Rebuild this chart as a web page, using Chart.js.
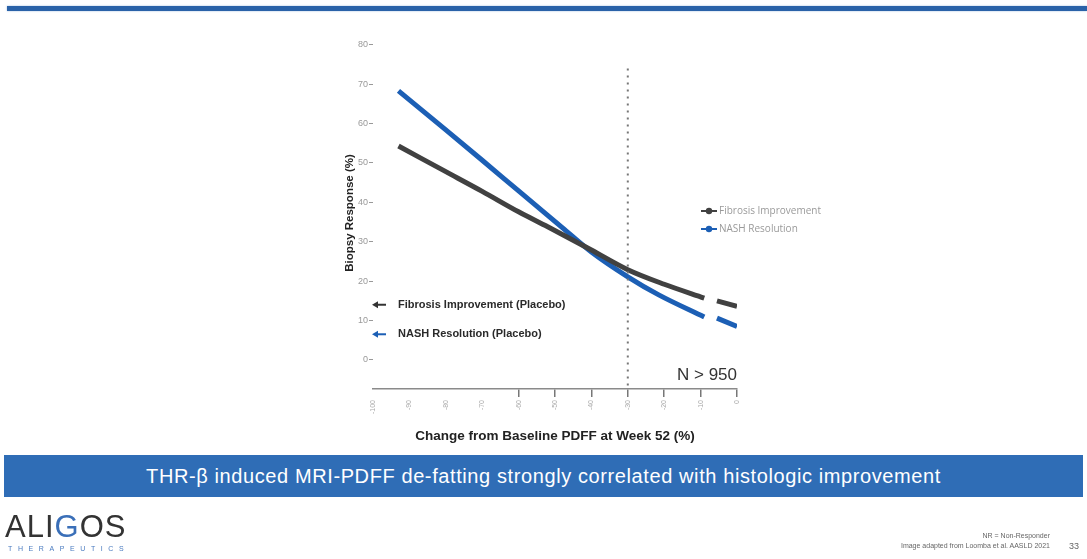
<!DOCTYPE html>
<html>
<head>
<meta charset="utf-8">
<script src="https://cdn.jsdelivr.net/npm/chart.js@4.4.1/dist/chart.umd.min.js"></script>
<style>
  body { margin: 0; width: 1087px; height: 559px; background: #fff; overflow: hidden; position: relative; font-family: 'Liberation Sans', Arial, sans-serif; }
  #topbar { position: absolute; left: 7px; right: 0; top: 6px; height: 5px; background: #2a62a8; box-shadow: 0 0 2px #9ab8dc; }
  #wrap { position: absolute; left: 0; top: 0; width: 1087px; height: 559px; }
  #banner { position: absolute; left: 4px; right: 4px; top: 455px; height: 42px; background: #2f6db6; color: #fff; font-size: 20px; line-height: 42px; text-align: center; letter-spacing: 0.6px; }
  #logo { position: absolute; left: 5px; top: 511px; font-size: 31px; letter-spacing: 1px; color: #333; line-height: 31px; }
  #logo span { color: #3a6fb8; }
  #logo2 { position: absolute; left: 8px; top: 545px; font-size: 7px; letter-spacing: 5.6px; color: #4a7bc0; }
  #notes { position: absolute; right: 37px; top: 531px; font-size: 7px; line-height: 10px; color: #666; text-align: right; }
  #page { position: absolute; right: 8px; top: 541px; font-size: 9px; color: #666; }
</style>
</head>
<body>
<div id="topbar"></div>
<div id="wrap"><canvas id="grafico" width="1087" height="559"></canvas></div>
<div id="banner">THR-β induced MRI-PDFF de-fatting strongly correlated with histologic improvement</div>
<div id="logo">ALI<span>G</span>OS</div>
<div id="logo2">THERAPEUTICS</div>
<div id="notes">NR = Non-Responder<br>Image adapted from Loomba et al. AASLD 2021</div>
<div id="page">33</div>
<script>
// valores (PDFF % vs resposta %)
const pdffFibrose = [-93, -80, -70, -60, -52, -40, -30, -20, -9, null, -5.5, 0]
const respFibrose = [54.3, 47.8, 42.8, 37.6, 33.8, 27.9, 22.9, 19.2, 15.7, null, 15.0, 13.6]
const pdffNash = [-93, -80, -70, -60, -48, -40, -30, -21.5, -9, null, -5.5, 0]
const respNash = [68.3, 58.4, 50.7, 42.9, 33.6, 27.4, 21.1, 16.5, 10.9, null, 10.6, 8.5]

const placeboFibrose = 14
const placeboNash = 6.5
const limiarPdff = -30
const topoLimiar = 74

const ticksX = [-100, -90, -80, -70, -60, -50, -40, -30, -20, -10, 0]
const ticksY = [0, 10, 20, 30, 40, 50, 60, 70, 80]

function montaPontos(xs, ys) {
  return xs.map((x, i) => ({ x: x === null ? -7 : x, y: ys[i] }))
}

const corPreta = '#414141'
const corAzul = '#1c5fb5'

// linha pontilhada, setas de placebo, legenda e N
const extras = {
  id: 'extras',
  afterDatasetsDraw(chart) {
    const ctx = chart.ctx
    const x = chart.scales.x
    const y = chart.scales.y

    ctx.save()
    ctx.strokeStyle = '#777'
    ctx.lineWidth = 2
    ctx.setLineDash([2, 5])
    ctx.beginPath()
    ctx.moveTo(x.getPixelForValue(limiarPdff), y.getPixelForValue(topoLimiar))
    ctx.lineTo(x.getPixelForValue(limiarPdff), chart.chartArea.bottom)
    ctx.stroke()
    ctx.setLineDash([])

    const setas = [
      { v: placeboFibrose, cor: '#333', txt: 'Fibrosis Improvement (Placebo)' },
      { v: placeboNash, cor: corAzul, txt: 'NASH Resolution (Placebo)' },
    ]
    setas.forEach(s => {
      const py = y.getPixelForValue(s.v)
      const px = x.left
      ctx.strokeStyle = s.cor
      ctx.fillStyle = s.cor
      ctx.lineWidth = 2
      ctx.beginPath()
      ctx.moveTo(px + 13, py)
      ctx.lineTo(px + 2, py)
      ctx.stroke()
      ctx.beginPath()
      ctx.moveTo(px - 1, py)
      ctx.lineTo(px + 5, py - 3.5)
      ctx.lineTo(px + 5, py + 3.5)
      ctx.closePath()
      ctx.fill()
      ctx.fillStyle = '#2a2a2a'
      ctx.font = 'bold 11px "Liberation Sans", Arial'
      ctx.textBaseline = 'middle'
      ctx.fillText(s.txt, px + 25, py)
    })

    // legenda
    chart.data.datasets.forEach((ds, i) => {
      const ly = 211 + i * 18
      ctx.strokeStyle = ds.borderColor
      ctx.fillStyle = ds.borderColor
      ctx.lineWidth = 2
      ctx.beginPath()
      ctx.moveTo(701, ly)
      ctx.lineTo(717, ly)
      ctx.stroke()
      ctx.beginPath()
      ctx.arc(709, ly, 3.2, 0, Math.PI * 2)
      ctx.fill()
      ctx.fillStyle = '#9a9a9a'
      ctx.font = '10px "Open Sans", Arial'
      ctx.textBaseline = 'middle'
      ctx.fillText(ds.label, 719, ly)
    })

    ctx.fillStyle = '#333'
    ctx.font = '17px "Liberation Sans", Arial'
    ctx.textAlign = 'right'
    ctx.textBaseline = 'middle'
    ctx.fillText('N > 950', x.right, 375)
    ctx.restore()
  }
}

const grafico = document.getElementById('grafico')
const graficoResposta = new Chart(grafico, {
  type: 'line',
  data: {
    datasets: [
      {
        label: 'Fibrosis Improvement',
        data: montaPontos(pdffFibrose, respFibrose),
        borderColor: corPreta,
        borderWidth: 5,
        pointRadius: 0,
        cubicInterpolationMode: 'monotone',
        spanGaps: false,
      },
      {
        label: 'NASH Resolution',
        data: montaPontos(pdffNash, respNash),
        borderColor: corAzul,
        borderWidth: 5,
        pointRadius: 0,
        cubicInterpolationMode: 'monotone',
        spanGaps: false,
      },
    ],
  },
  options: {
    responsive: false,
    animation: false,
    layout: { padding: { left: 343, right: 350, top: 37, bottom: 110 } },
    plugins: { legend: { display: false }, tooltip: { enabled: false } },
    scales: {
      x: {
        type: 'linear',
        min: -100,
        max: 0,
        afterBuildTicks: s => { s.ticks = ticksX.map(v => ({ value: v })) },
        afterFit: s => { s.height = 60 },
        border: { display: true, color: '#8a8a8a', width: 1.5 },
        grid: {
          drawOnChartArea: false,
          tickLength: 8,
          tickColor: c => (c.tick && c.tick.value >= -60 ? '#777' : 'rgba(0,0,0,0)'),
          lineWidth: 1.5,
        },
        ticks: {
          minRotation: 90,
          maxRotation: 90,
          padding: 3,
          color: '#aaa',
          font: { size: 7 },
        },
        title: {
          display: true,
          text: 'Change from Baseline PDFF at Week 52 (%)',
          color: '#222',
          font: { size: 13.5, weight: 'bold' },
          padding: { top: 2, bottom: 5 },
        },
      },
      y: {
        min: -7.4,
        max: 82,
        afterBuildTicks: s => { s.ticks = ticksY.map(v => ({ value: v })) },
        afterFit: s => { s.width = 30 },
        border: { display: false },
        grid: { drawOnChartArea: false, tickLength: 4, tickColor: '#999' },
        ticks: { color: '#999', font: { size: 9 }, padding: 1 },
        title: {
          display: true,
          text: 'Biopsy Response (%)',
          color: '#222',
          font: { size: 11.5, weight: 'bold' },
          padding: 0,
        },
      },
    },
  },
  plugins: [extras],
})
</script>
</body>
</html>
